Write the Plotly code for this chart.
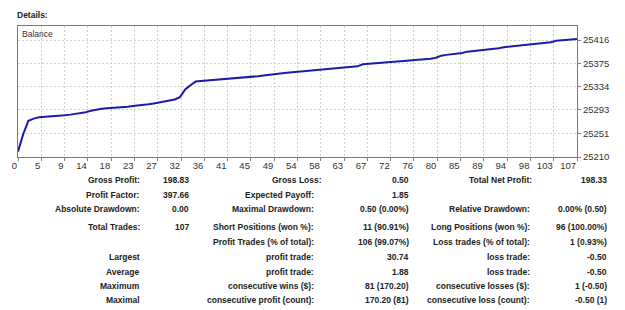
import numpy as np
import plotly.graph_objects as go

# ---------------- data ----------------
trades = list(range(108))
balance = [
    25219.5, 25250.2, 25273.9, 25277.6, 25279.8, 25280.4, 25280.9, 25281.3, 25282.4, 25283.5,
    25284.6, 25286.0, 25287.5, 25288.9, 25291.6, 25293.6, 25294.8, 25295.9, 25296.5, 25297.1,
    25296.6, 25298.4, 25299.6, 25300.3, 25301.3, 25302.7, 25304.3, 25305.9, 25308.2, 25309.7,
    25311.3, 25315.4, 25329.0, 25336.4, 25342.8, 25343.7, 25344.4, 25345.3, 25346.2, 25347.3,
    25348.2, 25348.8, 25349.4, 25350.0, 25350.6, 25351.3, 25352.3, 25353.6, 25354.9, 25355.9,
    25357.1, 25358.0, 25358.7, 25359.6, 25360.5, 25361.1, 25361.7, 25362.4, 25363.0, 25364.0,
    25365.1, 25365.9, 25366.8, 25367.6, 25368.5, 25369.6, 25373.2, 25373.8, 25374.3, 25375.0,
    25375.9, 25376.8, 25377.3, 25377.7, 25378.6, 25379.7, 25380.6, 25381.2, 25381.8, 25383.0,
    25384.7, 25388.4, 25389.8, 25390.6, 25391.6, 25393.3, 25395.5, 25396.4, 25396.9, 25397.6,
    25398.4, 25399.3, 25401.5, 25403.4, 25404.4, 25405.2, 25405.8, 25406.4, 25407.7, 25409.3,
    25410.6, 25411.4, 25412.2, 25414.5, 25415.5, 25415.9, 25416.3, 25417.8,
]
x_tick_labels = ["0", "5", "9", "14", "18", "23", "27", "32", "36", "41", "45", "49", "54",
                 "58", "63", "67", "72", "76", "80", "85", "89", "94", "98", "103", "107"]
y_tick_values = [25210, 25251, 25293, 25334, 25375, 25416]
y_tick_labels = ["25210", "25251", "25293", "25334", "25375", "25416"]

col1_labels = ["Gross Profit:", "Profit Factor:", "Absolute Drawdown:", "Total Trades:", "",
               "Largest", "Average", "Maximum", "Maximal"]
col1_values = ["198.83", "397.66", "0.00", "107", "", "", "", "", ""]
col2_labels = ["Gross Loss:", "Expected Payoff:", "Maximal Drawdown:", "Short Positions (won %):",
               "Profit Trades (% of total):", "profit trade:", "profit trade:",
               "consecutive wins ($):", "consecutive profit (count):"]
col2_values = ["0.50", "1.85", "0.50 (0.00%)", "11 (90.91%)", "106 (99.07%)", "30.74", "1.88",
               "81 (170.20)", "170.20 (81)"]
col3_labels = ["Total Net Profit:", "", "Relative Drawdown:", "Long Positions (won %):",
               "Loss trades (% of total):", "loss trade:", "loss trade:",
               "consecutive losses ($):", "consecutive loss (count):"]
col3_values = ["198.33", "", "0.00% (0.50)", "96 (100.00%)", "1 (0.93%)", "-0.50", "-0.50",
               "1 (-0.50)", "-0.50 (1)"]

# ---------------- layout geometry ----------------
W, H = 625, 310
L, R, T, B = 13, 577, 26, 157
FONT = "Liberation Sans, Arial, sans-serif"

def px(xp):
    return (xp - L) / (R - L)

def py(yp):
    return (B - yp) / (B - T)

fig = go.Figure()
fig.add_trace(go.Scatter(
    x=trades, y=balance, mode="lines",
    line=dict(color="#1c1ca8", width=2),
    hoverinfo="skip", showlegend=False,
))

n = len(trades) - 1
fig.update_xaxes(
    range=[0, n],
    tickmode="array",
    tickvals=list(np.linspace(0, n, len(x_tick_labels))),
    ticktext=x_tick_labels,
    tickangle=0,
    ticks="outside", ticklen=3, tickcolor="#808080",
    ticklabelposition="outside left",
    showgrid=True, gridcolor="#cfcfcf", griddash="2px,2px", gridwidth=1,
    showline=True, linecolor="#7a7a7a", linewidth=1, mirror=True,
    zeroline=False,
    tickfont=dict(family=FONT, size=9.5, color="#333333"),
)
fig.update_yaxes(
    range=[25210, 25210 + (25416 - 25210) * (B - T) / (B - 40)],
    side="right",
    tickmode="array", tickvals=y_tick_values, ticktext=y_tick_labels,
    ticks="outside", ticklen=3, tickcolor="#808080",
    showgrid=True, gridcolor="#cfcfcf", griddash="2px,2px", gridwidth=1,
    showline=True, linecolor="#7a7a7a", linewidth=1, mirror=True,
    zeroline=False,
    tickfont=dict(family=FONT, size=9.5, color="#333333"),
)

ann = []
ann.append(dict(x=px(10), y=py(14.5), xref="paper", yref="paper", text="<b>Details:</b>",
                showarrow=False, xanchor="left", yanchor="middle",
                font=dict(family=FONT, size=8.5, color="#222222")))
ann.append(dict(x=px(15.5), y=py(33.5), xref="paper", yref="paper", text="Balance",
                showarrow=False, xanchor="left", yanchor="middle",
                font=dict(family=FONT, size=8.5, color="#333333")))

row_y = [180, 195, 208.5, 227, 242, 256.5, 271.5, 285.5, 299.5]
cols = [
    (col1_labels, 138, col1_values, 188),
    (col2_labels, 314, col2_values, 410),
    (col3_labels, 532, col3_values, 609),
]
for ci, (labels, lx, values, vx) in enumerate(cols):
    for ri, (lab, val) in enumerate(zip(labels, values)):
        lxx = lx
        if ri == 0 and ci == 1:
            lxx = 322
        if ri == 0 and ci == 2:
            lxx = 534
        if lab:
            ann.append(dict(x=px(lxx), y=py(row_y[ri]), xref="paper", yref="paper",
                            text=f"<b>{lab}</b>",
                            showarrow=False, xanchor="right", yanchor="middle",
                            font=dict(family=FONT, size=8.5, color="#222222")))
        if val:
            ann.append(dict(x=px(vx), y=py(row_y[ri]), xref="paper", yref="paper",
                            text=f"<b>{val}</b>",
                            showarrow=False, xanchor="right", yanchor="middle",
                            font=dict(family=FONT, size=8.5, color="#222222")))

fig.update_layout(
    width=W, height=H,
    margin=dict(l=L, r=W - R, t=T, b=H - B, pad=0),
    paper_bgcolor="white", plot_bgcolor="white",
    annotations=ann,
    showlegend=False,
)
fig.write_html("out.html", config={"displayModeBar": False})
